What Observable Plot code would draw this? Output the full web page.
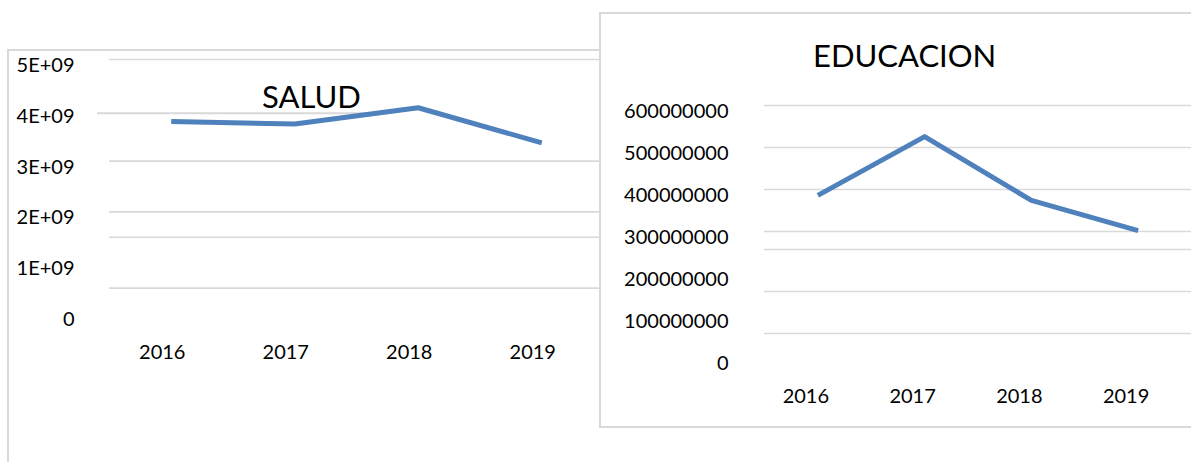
<!DOCTYPE html>
<html>
<head>
<meta charset="utf-8">
<script src="https://cdn.jsdelivr.net/npm/d3@7"></script>
<script src="https://cdn.jsdelivr.net/npm/@observablehq/plot@0.6"></script>
<style>
  html, body { margin: 0; padding: 0; background: #fff; }
  #page { position: relative; width: 1191px; height: 462px; overflow: hidden; background: #fff; font-family: Lato, "Open Sans", sans-serif; }
  .abs { position: absolute; }
  #frameL { left: 7px; top: 49px; width: 700px; height: 500px; border-left: 2px solid #d9d9d9; border-top: 2px solid #d9d9d9; }
  #frameR { left: 599px; top: 12px; width: 700px; height: 412px; border: 2px solid #d9d9d9; background: #fff; }
  .title { font-size: 31px; color: #000; white-space: nowrap; line-height: 1; }
  #titleL { left: 262px; top: 81px; }
  #titleR { left: 813px; top: 40px; }
</style>
</head>
<body>
<div id="page">
  <div id="frameL" class="abs"></div>
  <div id="titleL" class="abs title">SALUD</div>
  <div id="chartL" class="abs" style="left:0;top:0"></div>
  <div id="frameR" class="abs"></div>
  <div id="chartR" class="abs" style="left:600px;top:0"></div>
  <div id="titleR" class="abs title">EDUCACION</div>
</div>
<script>
// ---- data ----
const years = [2016, 2017, 2018, 2019];
const saludValues = [3.78e9, 3.73e9, 4.05e9, 3.36e9];
const educacionValues = [386e6, 526e6, 374e6, 302e6];

const saludTicks = [0, 1e9, 2e9, 3e9, 4e9, 5e9];
const saludTickLabels = ["0", "1E+09", "2E+09", "3E+09", "4E+09", "5E+09"];
const educacionTicks = [0, 100e6, 200e6, 300e6, 400e6, 500e6, 600e6];
const educacionTickLabels = ["0", "100000000", "200000000", "300000000", "400000000", "500000000", "600000000"];

// gridlines as they appear in the (collaged) picture
const saludGrid = [5e9, 3e9, 2e9, 1.5e9, 0.5e9];
const saludGridPartial = [{value: 3.94e9, from: 2015.4, to: 2017.6}];
const educacionGrid = [600e6, 500e6, 400e6, 300e6, 257e6, 157e6, 57e6];

// ---- styles ----
const lineColor = "#4F81BD";
const gridColor = "#d9d9d9";
const baseStyle = {fontFamily: "Lato, 'Open Sans', sans-serif", fontSize: "20px", color: "#000", background: "transparent", overflow: "visible"};

const saludData = years.map((y, i) => ({year: y, value: saludValues[i]}));
const educacionData = years.map((y, i) => ({year: y, value: educacionValues[i]}));

const left = Plot.plot({
  width: 603, height: 462,
  marginLeft: 109, marginRight: 0, marginTop: 59, marginBottom: 149,
  style: baseStyle,
  x: {type: "linear", domain: [2015.5, 2019.5]},
  y: {domain: [0, 5e9]},
  marks: [
    Plot.ruleY(saludGrid, {y: d => d, stroke: gridColor, strokeWidth: 1.6}),
    Plot.link(saludGridPartial, {x1: "from", x2: "to", y1: "value", y2: "value", stroke: gridColor, strokeWidth: 2}),
    Plot.axisY({ticks: saludTicks, tickFormat: d => saludTickLabels[saludTicks.indexOf(d)], tickSize: 0, tickPadding: 35, dy: 6, label: null}),
    Plot.axisX({ticks: years, tickFormat: d => String(d), tickSize: 0, tickPadding: 31, dx: -9, label: null}),
    Plot.line(saludData, {x: "year", y: "value", stroke: lineColor, strokeWidth: 5, strokeLinecap: "butt", strokeLinejoin: "round"})
  ]
});
document.getElementById("chartL").appendChild(left);

const right = Plot.plot({
  width: 591, height: 462,
  marginLeft: 164, marginRight: 0, marginTop: 105, marginBottom: 105,
  style: baseStyle,
  x: {type: "linear", domain: [2015.5, 2019.5]},
  y: {domain: [0, 600e6]},
  marks: [
    Plot.ruleY(educacionGrid, {y: d => d, stroke: gridColor, strokeWidth: 1.6}),
    Plot.axisY({ticks: educacionTicks, tickFormat: d => educacionTickLabels[educacionTicks.indexOf(d)], tickSize: 0, tickPadding: 36, dy: 6, label: null}),
    Plot.axisX({ticks: years, tickFormat: d => String(d), tickSize: 0, tickPadding: 31, dx: -12, label: null}),
    Plot.line(educacionData, {x: "year", y: "value", stroke: lineColor, strokeWidth: 5, strokeLinecap: "butt", strokeLinejoin: "round"})
  ]
});
document.getElementById("chartR").appendChild(right);
</script>
</body>
</html>
